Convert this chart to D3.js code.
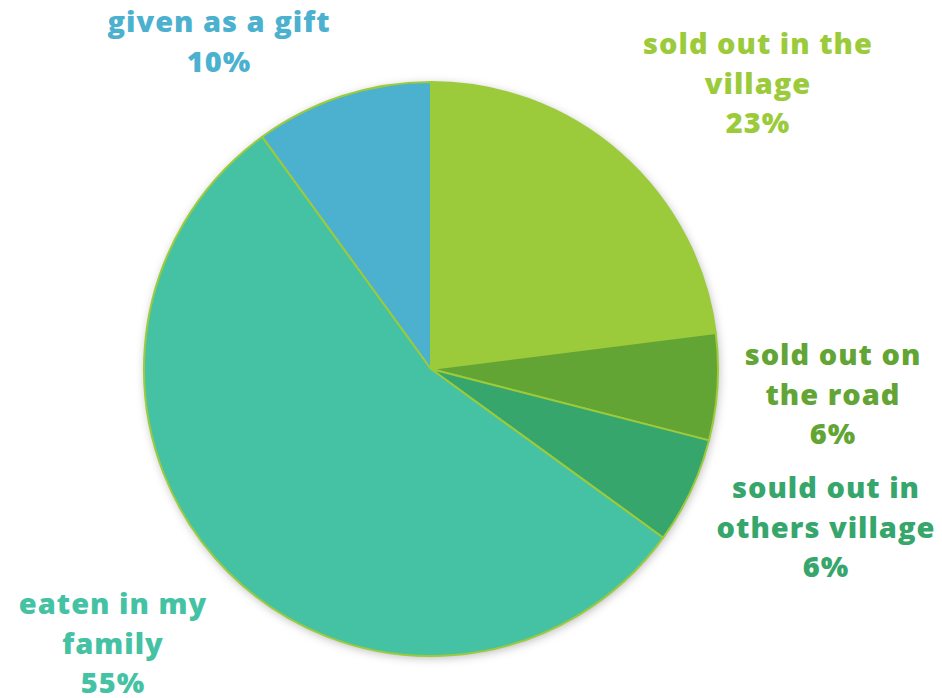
<!DOCTYPE html>
<html>
<head>
<meta charset="utf-8">
<script src="https://cdn.jsdelivr.net/npm/d3@7"></script>
<style>
  html, body { margin: 0; padding: 0; background: #fff; }
  svg { display: block; }
  text { font-family: "Open Sans", "Lato", sans-serif; font-weight: 800; }
</style>
</head>
<body>
<svg id="chart" width="942" height="698"></svg>
<script>
// Where the harvest went
const categories = ["sold out in the village", "sold out on the road", "sould out in others village", "eaten in my family", "given as a gift"];
const values = [23, 6, 6, 55, 10];
const colors = ["#9BCB3B", "#63A535", "#37A66C", "#44C2A3", "#4BB1CF"];
const labelLines = [
  ["sold out in the", "village"],
  ["sold out on", "the road"],
  ["sould out in", "others village"],
  ["eaten in my", "family"],
  ["given as a gift"]
];
const labelAnchors = [[758, 44], [833, 355], [826, 488], [113, 604], [219, 22]];

const width = 942, height = 698;
const cx = 431, cy = 369, radius = 287;

const svg = d3.select("#chart");

const defs = svg.append("defs");
const shadow = defs.append("filter").attr("id", "pieShadow")
  .attr("x", "-20%").attr("y", "-20%").attr("width", "140%").attr("height", "140%");
shadow.append("feDropShadow")
  .attr("dx", 1).attr("dy", 2).attr("stdDeviation", 5)
  .attr("flood-color", "#000").attr("flood-opacity", 0.28);

const data = categories.map((c, i) => ({ name: c, value: values[i], color: colors[i], lines: labelLines[i], anchor: labelAnchors[i] }));

const pie = d3.pie().value(d => d.value).sort(null);
const arc = d3.arc().innerRadius(0).outerRadius(radius);

const g = svg.append("g").attr("transform", `translate(${cx},${cy})`);

// soft shadow under the disc
g.append("circle").attr("r", radius).attr("fill", "#fff").attr("filter", "url(#pieShadow)");

g.selectAll("path.slice")
  .data(pie(data))
  .join("path")
  .attr("class", "slice")
  .attr("d", arc)
  .attr("fill", d => d.data.color)
  .attr("stroke", "#9BCB3B")
  .attr("stroke-width", 2)
  .attr("stroke-linejoin", "round");

// labels
const lineH = 39.5;
const labels = svg.selectAll("text.label")
  .data(data)
  .join("text")
  .attr("class", "label")
  .attr("text-anchor", "middle")
  .attr("font-size", 29)
  .attr("letter-spacing", 1)
  .attr("fill", d => d.color);

labels.each(function(d) {
  const t = d3.select(this);
  const rows = d.lines.concat([d.value + "%"]);
  rows.forEach((r, i) => {
    t.append("tspan")
      .attr("x", d.anchor[0])
      .attr("y", d.anchor[1] + i * lineH)
      .attr("dy", "0.35em")
      .text(r);
  });
});
</script>
</body>
</html>
